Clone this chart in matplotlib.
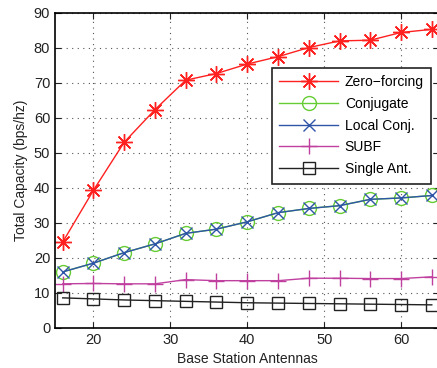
import matplotlib
matplotlib.use("Agg")
import matplotlib.pyplot as plt

plt.rcParams['font.family'] = ['Liberation Sans', 'DejaVu Sans']

antennas = [16, 20, 24, 28, 32, 36, 40, 44, 48, 52, 56, 60, 64]
zero_forcing = [24.5, 39.3, 53.0, 62.3, 70.7, 72.6, 75.3, 77.4, 80.0, 81.9, 82.1, 84.3, 85.2]
conjugate = [16.0, 18.5, 21.5, 24.0, 27.0, 28.2, 30.3, 32.9, 34.1, 34.9, 36.7, 37.1, 37.8]
local_conj = [16.0, 18.5, 21.5, 24.0, 27.0, 28.2, 30.3, 32.9, 34.1, 34.9, 36.7, 37.1, 37.8]
subf = [12.6, 12.7, 12.6, 12.6, 13.8, 13.5, 13.5, 13.5, 14.2, 14.2, 14.1, 14.1, 14.6]
single_ant = [8.6, 8.3, 8.0, 7.8, 7.6, 7.4, 7.2, 7.1, 7.0, 6.9, 6.8, 6.7, 6.6]

fig = plt.figure(figsize=(4.37, 3.68), dpi=100)
ax = fig.add_axes([0.1259, 0.1087, 0.8798, 0.8573])

ax.plot(antennas, zero_forcing, color='#ff2020', lw=1, marker=(8, 2, 0), ms=12,
        mew=1, label='Zero\u2212forcing')
ax.plot(antennas, conjugate, color='#66cc33', lw=1, marker='o', ms=10,
        mfc='none', mew=1, label='Conjugate')
ax.plot(antennas, local_conj, color='#2f55a8', lw=1, marker='x', ms=9,
        mew=1, label='Local Conj.')
ax.plot(antennas, subf, color='#c040a0', lw=1, marker='+', ms=12,
        mew=1, label='SUBF')
ax.plot(antennas, single_ant, color='#222222', lw=1, marker='s', ms=9,
        mfc='none', mew=1, label='Single Ant.')

ax.set_xlim(15, 65)
ax.set_ylim(0, 90)
ax.set_xticks([20, 30, 40, 50, 60])
ax.set_yticks(range(0, 91, 10))
ax.tick_params(direction='in', top=True, right=True, labelsize=10.5,
               colors='#222222', length=4)
ax.grid(True, linestyle=(0, (1, 4)), color='#555555', lw=0.8)
for s in ax.spines.values():
    s.set_linewidth(1.2)

ax.set_xlabel('Base Station Antennas', fontsize=10, color='#222222')
ax.set_ylabel('Total Capacity (bps/hz)', fontsize=10, color='#222222')

leg = ax.legend(loc='upper left', bbox_to_anchor=(0.564, 0.825), borderaxespad=0,
                fontsize=10, handlelength=4.2, handletextpad=0.5,
                labelspacing=0.55, borderpad=0.55,
                fancybox=False, framealpha=1, edgecolor='#222222')
leg.get_frame().set_linewidth(1.2)

fig.savefig('out.png', dpi=100)
